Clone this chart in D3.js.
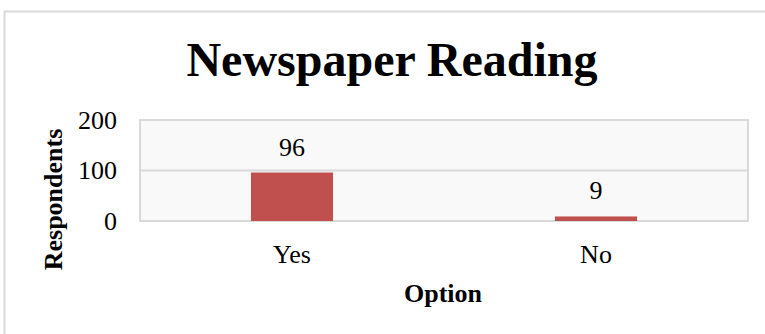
<!DOCTYPE html>
<html>
<head>
<meta charset="utf-8">
<script src="https://cdn.jsdelivr.net/npm/d3@7/dist/d3.min.js"></script>
<style>
  html, body { margin: 0; padding: 0; background: #ffffff; }
  svg { display: block; }
  text { font-family: "Liberation Serif", "Times New Roman", serif; fill: #000; }
</style>
</head>
<body>
<svg id="chart" width="765" height="334"></svg>
<script>
// Survey answers: does the respondent read a newspaper?
const categories = ["Yes", "No"];
const respondents = [96, 9];
const yTicks = [0, 100, 200];
const chartTitle = "Newspaper Reading";
const xTitle = "Option";
const yTitle = "Respondents";

const svg = d3.select("#chart");
const W = 765, H = 334;
const FONT = "Liberation Serif, Times New Roman, serif";
const LABEL_SIZE = 26;

// Outer chart frame (runs past the right and bottom edges)
svg.append("rect")
  .attr("x", 4.5).attr("y", 11.5)
  .attr("width", W + 10).attr("height", H + 10)
  .attr("fill", "#ffffff")
  .attr("stroke", "#d9d9d9").attr("stroke-width", 2);

const plot = { left: 140, right: 748, top: 120, bottom: 221 };

const x = d3.scaleBand()
  .domain(categories)
  .range([plot.left, plot.right])
  .paddingInner(0.73)
  .paddingOuter(0.365);

const y = d3.scaleLinear()
  .domain([0, 200])
  .range([plot.bottom, plot.top]);

// Plot area background
svg.append("rect")
  .attr("x", plot.left).attr("y", plot.top)
  .attr("width", plot.right - plot.left).attr("height", plot.bottom - plot.top)
  .attr("fill", "#f9f9f9")
  .attr("stroke", "#d9d9d9").attr("stroke-width", 2);

// Horizontal gridlines
svg.append("g")
  .selectAll("line")
  .data(yTicks)
  .join("line")
  .attr("x1", plot.left).attr("x2", plot.right)
  .attr("y1", d => y(d)).attr("y2", d => y(d))
  .attr("stroke", "#d9d9d9").attr("stroke-width", 2);

// Y axis tick labels
const yAxis = d3.axisLeft(y).tickValues(yTicks).tickSize(0).tickPadding(23);
svg.append("g")
  .attr("transform", `translate(${plot.left},0)`)
  .call(yAxis)
  .call(g => g.select(".domain").remove())
  .call(g => g.selectAll("text")
    .attr("font-family", FONT)
    .attr("font-size", LABEL_SIZE).attr("fill", "#000"));

// X axis category labels
const xAxis = d3.axisBottom(x).tickSize(0).tickPadding(23.5);
svg.append("g")
  .attr("transform", `translate(0,${plot.bottom})`)
  .call(xAxis)
  .call(g => g.select(".domain").remove())
  .call(g => g.selectAll("text")
    .attr("font-family", FONT)
    .attr("font-size", LABEL_SIZE).attr("fill", "#000"));

// Bars
svg.append("g")
  .selectAll("rect")
  .data(categories)
  .join("rect")
  .attr("x", d => x(d))
  .attr("width", x.bandwidth())
  .attr("y", (d, i) => y(respondents[i]))
  .attr("height", (d, i) => y(0) - y(respondents[i]))
  .attr("fill", "#c0504d");

// Value labels
svg.append("g")
  .selectAll("text")
  .data(categories)
  .join("text")
  .attr("x", d => x(d) + x.bandwidth() / 2)
  .attr("y", (d, i) => y(respondents[i]) - 17)
  .attr("text-anchor", "middle")
  .attr("font-size", LABEL_SIZE)
  .text((d, i) => respondents[i]);

// Title
svg.append("text")
  .attr("x", 392).attr("y", 76)
  .attr("text-anchor", "middle")
  .attr("font-size", 48).attr("font-weight", "bold")
  .text(chartTitle);

// Axis titles
svg.append("text")
  .attr("x", 443).attr("y", 301.5)
  .attr("text-anchor", "middle")
  .attr("font-size", LABEL_SIZE).attr("font-weight", "bold")
  .text(xTitle);

svg.append("text")
  .attr("transform", "translate(62,199.5) rotate(-90)")
  .attr("text-anchor", "middle")
  .attr("font-size", LABEL_SIZE).attr("font-weight", "bold")
  .text(yTitle);
</script>
</body>
</html>
